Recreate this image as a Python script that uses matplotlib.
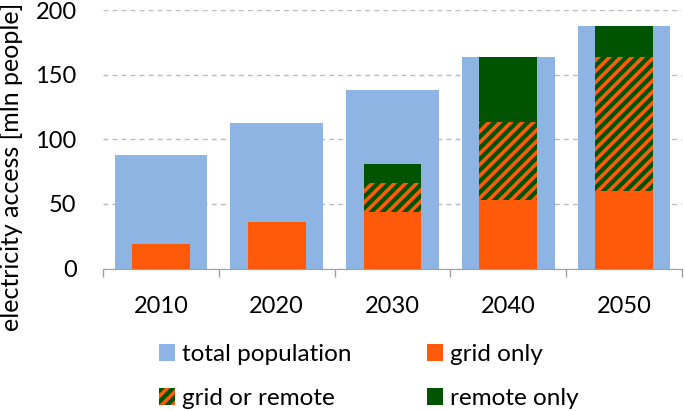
import numpy as np
import matplotlib
matplotlib.use('Agg')
import matplotlib.pyplot as plt
from matplotlib.patches import Patch

# data
years = ['2010', '2020', '2030', '2040', '2050']
total_population = [88, 112.5, 138, 164, 188]
grid_only = [19, 36, 44, 53, 60]
grid_or_remote = [0, 0, 22, 60, 104]
remote_only = [0, 0, 15, 51, 24]

blue = '#8DB4E2'
orange = '#FF5A0A'
green = '#005400'

plt.rcParams['font.family'] = ['Lato', 'DejaVu Sans']
plt.rcParams['hatch.linewidth'] = 2.6

fig = plt.figure(figsize=(6.85, 4.11), dpi=100)
ax = fig.add_axes([103 / 685, 1 - 268.5 / 411, 579 / 685, 258.5 / 411])

x = np.arange(len(years))
ax.bar(x, total_population, width=0.8, color=blue, zorder=2)
ax.bar(x, grid_only, width=0.5, color=orange, zorder=3)
bottom2 = np.array(grid_only)
ax.bar(x, grid_or_remote, width=0.5, bottom=bottom2, color=green,
       edgecolor=orange, linewidth=0, hatch='///', zorder=3)
bottom3 = bottom2 + np.array(grid_or_remote)
ax.bar(x, remote_only, width=0.5, bottom=bottom3, color=green, zorder=3)

ax.set_xlim(-0.5, len(years) - 0.5)
ax.set_ylim(0, 200)
ax.set_yticks([0, 50, 100, 150, 200])
ax.yaxis.grid(True, color='#BBBBBB', linestyle=(0, (3.5, 3)), linewidth=1)
ax.set_axisbelow(True)

ax.set_xticks(x)
ax.set_xticklabels(years)
ax.set_xticks(np.arange(len(years) + 1) - 0.5, minor=True)
ax.tick_params(axis='x', which='major', length=0, pad=20, labelsize=17)
ax.tick_params(axis='x', which='minor', length=6, color='#A0A0A0', width=1)
ax.tick_params(axis='y', length=0, pad=19, labelsize=17)

for s in ['top', 'right', 'left']:
    ax.spines[s].set_visible(False)
ax.spines['bottom'].set_color('#A0A0A0')
ax.spines['bottom'].set_zorder(4)

fig.text(12 / 685, 1 - 167 / 411, 'electricity access [mln people]',
         rotation=90, ha='center', va='center', fontsize=18)

handles = [
    Patch(facecolor=blue, label='total population'),
    Patch(facecolor=green, edgecolor=orange, linewidth=0, hatch='///', label='grid or remote'),
    Patch(facecolor=orange, label='grid only'),
    Patch(facecolor=green, label='remote only'),
]
fig.legend(handles=handles, ncol=2, loc='upper left',
           bbox_to_anchor=(159 / 685, 1 - 344 / 411), frameon=False,
           fontsize=17.5, handlelength=0.65, handleheight=0.65,
           handletextpad=0.3, columnspacing=3.1, labelspacing=0.95,
           borderpad=0, borderaxespad=0)

plt.savefig('out.png', dpi=100)
